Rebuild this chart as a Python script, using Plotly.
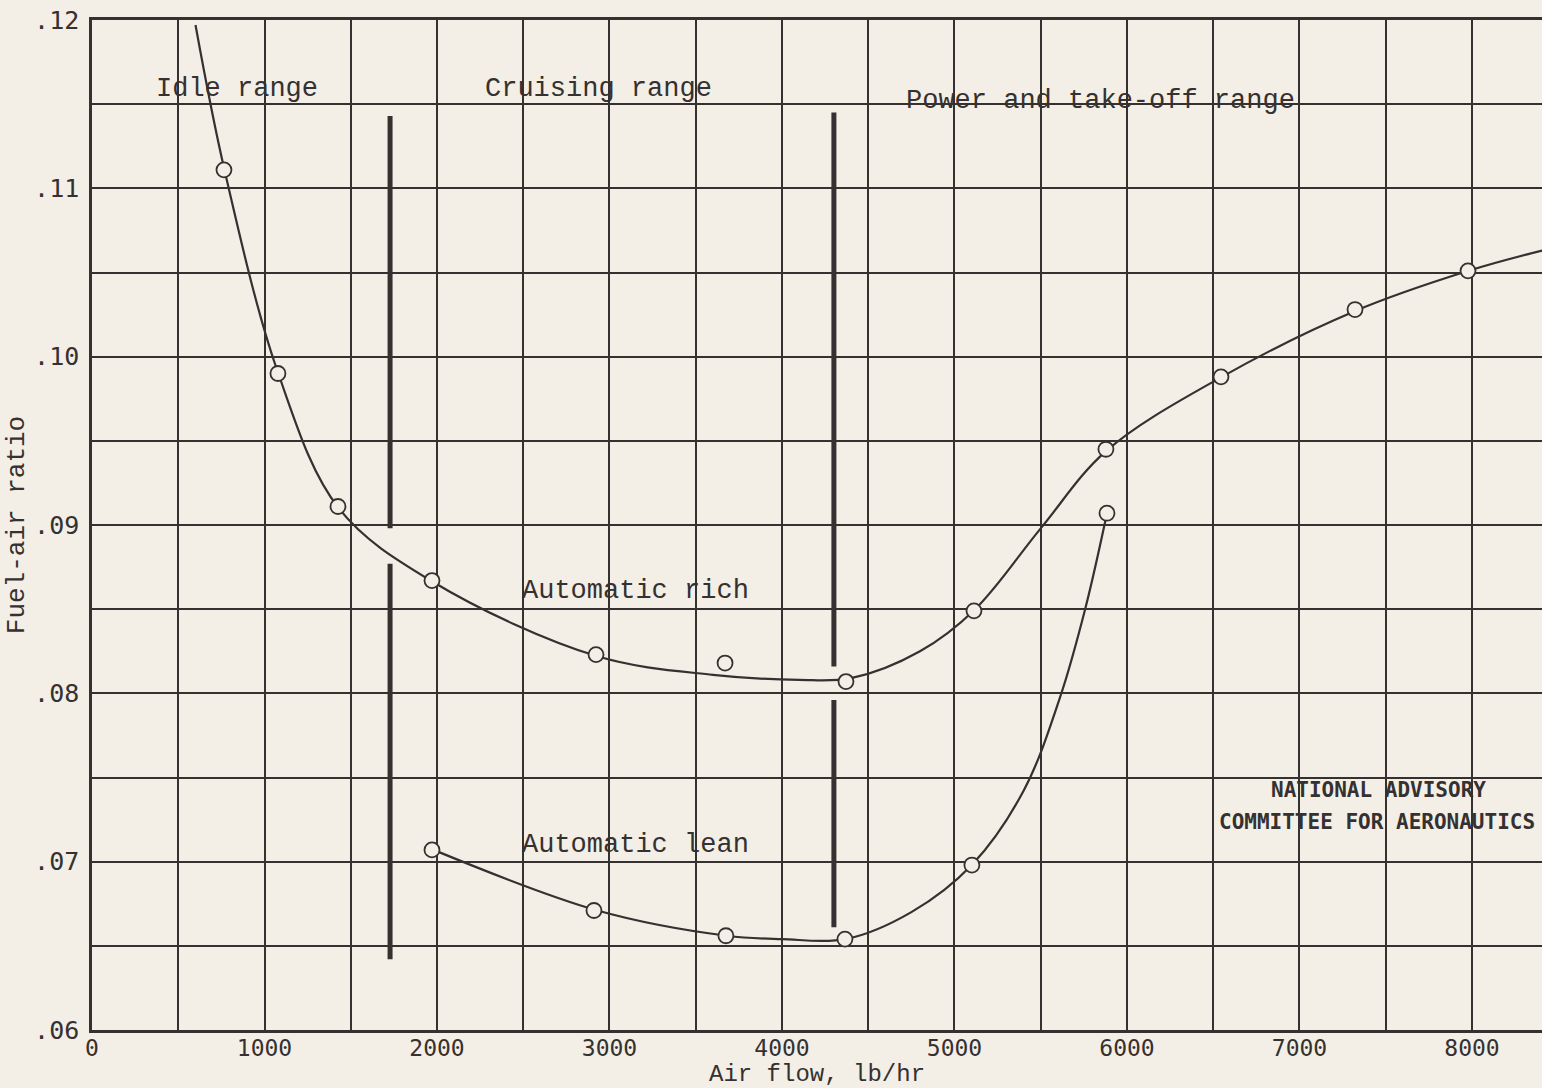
import plotly.graph_objects as go

# ---- data ----
rich_x = [765, 1078, 1426, 1971, 2922, 3670, 4371, 5113, 5878, 6545, 7322, 7977]
rich_y = [0.1111, 0.0990, 0.0911, 0.0867, 0.0823, 0.0818, 0.0807, 0.0849, 0.0945, 0.0988, 0.1028, 0.1051]

rich_curve_x = [600, 770, 1080, 1430, 1980, 2930, 3600, 4100, 4400, 4800, 5120, 5500, 5880, 6550, 7320, 7980, 8406]
rich_curve_y = [0.1197, 0.1110, 0.0990, 0.0910, 0.0866, 0.0822, 0.0811, 0.0808, 0.0809, 0.0825, 0.0850, 0.0898, 0.0944, 0.0988, 0.1027, 0.1051, 0.1063]

lean_x = [1971, 2910, 3675, 4365, 5101, 5884]
lean_y = [0.0707, 0.0671, 0.0656, 0.0654, 0.0698, 0.0907]

lean_curve_x = [1980, 2930, 3680, 4000, 4370, 4750, 5100, 5400, 5610, 5760, 5880]
lean_curve_y = [0.0707, 0.0671, 0.0656, 0.0654, 0.0654, 0.0670, 0.0698, 0.0742, 0.0797, 0.0851, 0.0905]

# range dividers (x, y_start, y_end)
divider_x = [1728, 1728, 4301, 4301]
divider_y0 = [0.1143, 0.0877, 0.1145, 0.0796]
divider_y1 = [0.0898, 0.0642, 0.0816, 0.0661]

x_ticks = [0, 1000, 2000, 3000, 4000, 5000, 6000, 7000, 8000]
x_tick_text = ["0", "1000", "2000", "3000", "4000", "5000", "6000", "7000", "8000"]
y_ticks = [0.06, 0.07, 0.08, 0.09, 0.10, 0.11, 0.12]
y_tick_text = [".06", ".07", ".08", ".09", ".10", ".11", ".12"]

labels = [
    ("Idle range", 237, 0.1159),
    ("Cruising range", 598, 0.1159),
    ("Power and take-off range", 1100, 0.1152),
    ("Automatic rich", 635, 0.0861),
    ("Automatic lean", 635, 0.0710),
]

PAPER = "#f3eee6"
INK = "#353130"
MONO = "Liberation Mono, Courier New, monospace"
LETTER = "DejaVu Sans Mono, monospace"

fig = go.Figure()

for i in range(len(divider_x)):
    fig.add_trace(go.Scatter(x=[divider_x[i], divider_x[i]], y=[divider_y0[i], divider_y1[i]],
                             mode="lines", line=dict(color=INK, width=5),
                             hoverinfo="skip", showlegend=False))

fig.add_trace(go.Scatter(x=rich_curve_x, y=rich_curve_y, mode="lines",
                         line=dict(color=INK, width=2.2, shape="spline", smoothing=1.0),
                         showlegend=False))
fig.add_trace(go.Scatter(x=lean_curve_x, y=lean_curve_y, mode="lines",
                         line=dict(color=INK, width=2.2, shape="spline", smoothing=1.0),
                         showlegend=False))
fig.add_trace(go.Scatter(x=rich_x, y=rich_y, mode="markers",
                         marker=dict(symbol="circle", size=15, color=PAPER,
                                     line=dict(color=INK, width=1.8)),
                         name="Automatic rich", showlegend=False))
fig.add_trace(go.Scatter(x=lean_x, y=lean_y, mode="markers",
                         marker=dict(symbol="circle", size=15, color=PAPER,
                                     line=dict(color=INK, width=1.8)),
                         name="Automatic lean", showlegend=False))


def px_to_x(px):
    return (px - 92) / 1450 * 8406


annotations = []
for text, px, yv in labels:
    annotations.append(dict(x=px_to_x(px), y=yv, xref="x", yref="y", text=text,
                            showarrow=False, font=dict(family=MONO, size=27, color=INK)))
annotations.append(dict(x=px_to_x(1378), y=0.07425, xref="x", yref="y",
                        text="NATIONAL ADVISORY", showarrow=False,
                        font=dict(family=LETTER, size=21, color=INK, weight=600)))
annotations.append(dict(x=px_to_x(1377), y=0.07235, xref="x", yref="y",
                        text="COMMITTEE FOR AERONAUTICS", showarrow=False,
                        font=dict(family=LETTER, size=21, color=INK, weight=600)))
annotations.append(dict(x=0.5, y=0, xref="paper", yref="paper", text="Air flow, lb/hr",
                        yanchor="middle", yshift=-44, showarrow=False,
                        font=dict(family=MONO, size=24, color=INK)))

fig.update_layout(
    width=1542, height=1088,
    margin=dict(l=92, r=0, t=20, b=58),
    paper_bgcolor=PAPER, plot_bgcolor=PAPER,
    annotations=annotations,
    xaxis=dict(range=[0, 8406], tickvals=x_ticks, ticktext=x_tick_text,
               showgrid=True, gridcolor=INK, gridwidth=2,
               minor=dict(dtick=500, tick0=0, showgrid=True, gridcolor=INK, gridwidth=2),
               showline=True, linecolor=INK, linewidth=2.5, mirror=True,
               ticks="", ticklabelstandoff=-4,
               tickfont=dict(family=LETTER, size=23, color=INK),
               zeroline=False),
    yaxis=dict(range=[0.06, 0.12], tickvals=y_ticks, ticktext=y_tick_text,
               showgrid=True, gridcolor=INK, gridwidth=2,
               minor=dict(dtick=0.005, tick0=0.06, showgrid=True, gridcolor=INK, gridwidth=2),
               showline=True, linecolor=INK, linewidth=2.5, mirror=False,
               ticks="", ticklabelstandoff=5,
               tickfont=dict(family=LETTER, size=25, color=INK),
               title=dict(text="Fuel-air ratio", standoff=2,
                          font=dict(family=MONO, size=26, color=INK)),
               zeroline=False),
)

fig.write_html("out.html", config={"displayModeBar": False},
               post_script="document.body.style.margin='0px';document.body.style.background='#f3eee6';")
